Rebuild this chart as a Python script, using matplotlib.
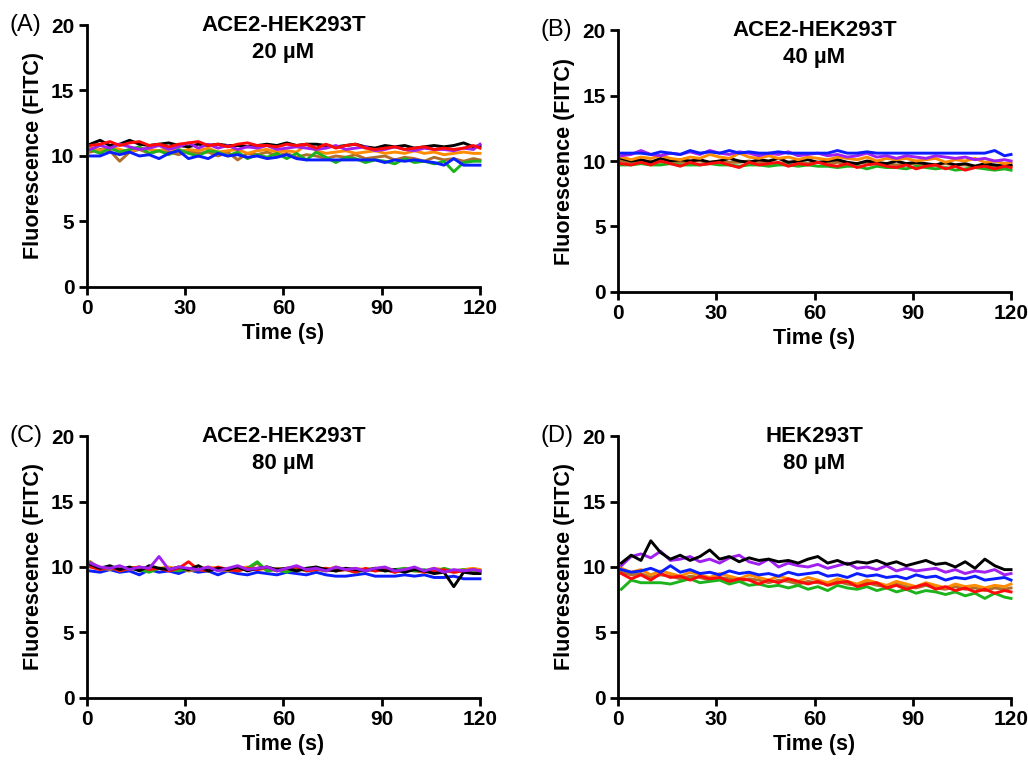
import matplotlib
matplotlib.use('Agg')
import matplotlib.pyplot as plt

plt.rcParams['font.family'] = ['Liberation Sans', 'DejaVu Sans']

# sampling grid (s)
time_s = list(range(1, 119, 3)) + [120]

# (A) ACE2-HEK293T, 20 uM
a_black = [10.9, 11.2, 10.8, 10.9, 11.2, 10.9, 10.8, 10.9, 11.0, 10.8, 10.7, 10.9, 10.8, 10.9, 10.8, 10.8, 10.7, 10.8, 10.9, 10.8, 11.0, 10.8, 10.9, 10.9, 10.8, 10.7, 10.8, 10.9, 10.7, 10.6, 10.8, 10.7, 10.8, 10.6, 10.7, 10.8, 10.7, 10.8, 11.0, 10.7, 10.8]
a_red = [10.8, 10.9, 11.1, 10.8, 11.0, 11.1, 10.8, 10.9, 10.7, 10.9, 11.0, 11.1, 10.8, 10.9, 10.7, 10.9, 11.0, 10.8, 10.8, 10.7, 10.9, 10.8, 10.9, 10.6, 10.9, 10.6, 10.8, 10.9, 10.6, 10.5, 10.6, 10.7, 10.5, 10.6, 10.7, 10.5, 10.6, 10.5, 10.6, 10.8, 10.6]
a_purple = [10.5, 10.8, 10.6, 10.9, 10.7, 10.5, 10.6, 10.8, 10.5, 10.7, 11.0, 10.6, 10.9, 10.6, 10.8, 10.5, 10.7, 10.6, 10.8, 10.5, 10.6, 10.7, 10.6, 10.5, 10.6, 10.8, 10.5, 10.6, 10.7, 10.4, 10.5, 10.7, 10.5, 10.4, 10.6, 10.5, 10.5, 10.4, 10.6, 10.5, 10.9]
a_orange = [10.6, 10.4, 10.7, 10.5, 10.3, 10.6, 10.5, 10.4, 10.6, 10.3, 10.5, 10.4, 10.6, 10.3, 10.4, 10.5, 10.2, 10.4, 10.5, 10.3, 10.4, 10.3, 10.9, 10.4, 10.2, 10.3, 10.4, 10.2, 10.3, 10.4, 10.2, 10.3, 10.2, 10.4, 10.2, 10.3, 10.1, 10.2, 10.3, 10.2, 10.2]
a_brown = [10.3, 10.5, 10.4, 9.6, 10.3, 10.5, 10.2, 10.4, 10.3, 10.1, 10.4, 10.2, 10.3, 10.0, 10.3, 9.7, 10.2, 10.1, 10.3, 10.0, 10.2, 9.9, 10.1, 10.0, 9.8, 10.0, 9.9, 10.1, 9.8, 9.9, 10.0, 9.7, 9.9, 9.8, 9.6, 9.9, 9.7, 9.8, 9.6, 9.8, 9.7]
a_green = [10.5, 10.2, 10.6, 10.3, 10.5, 10.7, 10.2, 10.4, 10.1, 10.5, 10.2, 10.0, 10.4, 10.3, 10.0, 10.3, 9.8, 10.1, 9.9, 10.2, 9.8, 10.2, 9.7, 10.3, 9.9, 9.5, 9.9, 9.8, 9.5, 9.7, 9.6, 9.4, 9.8, 9.5, 9.6, 9.4, 9.6, 8.8, 9.5, 9.6, 9.6]
a_blue = [10.0, 10.0, 10.3, 10.1, 10.3, 10.0, 10.1, 9.8, 10.2, 10.4, 9.8, 10.0, 9.8, 10.2, 10.0, 10.1, 9.9, 10.0, 9.8, 9.9, 10.1, 9.8, 9.7, 9.7, 9.7, 9.7, 9.7, 9.7, 9.7, 9.7, 9.5, 9.7, 9.6, 9.7, 9.6, 9.5, 9.3, 9.8, 9.3, 9.3, 9.3]

# (B) ACE2-HEK293T, 40 uM
b_blue = [10.6, 10.6, 10.6, 10.5, 10.7, 10.6, 10.5, 10.8, 10.6, 10.7, 10.6, 10.8, 10.6, 10.7, 10.6, 10.6, 10.7, 10.6, 10.6, 10.6, 10.6, 10.6, 10.8, 10.6, 10.6, 10.7, 10.6, 10.6, 10.6, 10.6, 10.6, 10.6, 10.6, 10.6, 10.6, 10.6, 10.6, 10.6, 10.8, 10.4, 10.5]
b_purple = [10.4, 10.5, 10.8, 10.5, 10.4, 10.6, 10.5, 10.7, 10.5, 10.8, 10.6, 10.5, 10.7, 10.6, 10.4, 10.6, 10.5, 10.7, 10.4, 10.5, 10.6, 10.4, 10.5, 10.3, 10.4, 10.6, 10.3, 10.4, 10.2, 10.4, 10.3, 10.2, 10.4, 10.3, 10.2, 10.3, 10.1, 10.2, 10.0, 10.1, 10.0]
b_orange = [10.3, 10.1, 10.3, 10.2, 10.4, 10.2, 10.1, 10.3, 10.2, 10.5, 10.3, 10.2, 10.6, 10.3, 10.2, 10.4, 10.2, 10.3, 10.1, 10.3, 10.2, 10.1, 10.3, 10.2, 10.1, 10.3, 10.0, 10.2, 10.1, 10.2, 10.0, 10.1, 10.2, 9.9, 10.1, 10.0, 10.2, 9.9, 10.0, 9.8, 9.9]
b_black = [10.2, 10.0, 10.1, 9.9, 10.2, 10.0, 10.1, 10.0, 10.1, 9.9, 10.0, 10.2, 10.0, 9.9, 10.1, 10.0, 10.2, 9.9, 10.0, 10.1, 9.9, 10.0, 10.1, 9.9, 9.8, 10.0, 9.9, 9.8, 10.0, 9.8, 9.9, 9.8, 9.7, 9.9, 9.7, 9.8, 9.6, 9.8, 9.7, 9.6, 9.7]
b_brown = [10.0, 9.9, 10.0, 10.0, 9.9, 10.0, 9.9, 10.0, 10.0, 9.9, 10.0, 9.9, 9.9, 10.0, 9.9, 9.9, 9.8, 9.9, 9.9, 9.8, 9.9, 9.8, 9.9, 9.8, 9.8, 9.9, 9.8, 9.8, 9.7, 9.8, 9.8, 9.7, 9.7, 9.8, 9.7, 9.7, 9.6, 9.7, 9.6, 9.7, 9.6]
b_red = [9.8, 9.7, 9.9, 9.7, 10.0, 9.8, 9.6, 9.9, 9.7, 9.8, 9.9, 9.7, 9.5, 9.9, 9.7, 9.8, 9.9, 9.6, 9.8, 9.7, 9.9, 9.7, 9.6, 9.8, 9.5, 9.7, 9.8, 9.6, 9.5, 9.7, 9.4, 9.6, 9.7, 9.4, 9.6, 9.3, 9.5, 9.6, 9.4, 9.6, 9.5]
b_green = [9.7, 9.7, 9.8, 9.7, 9.7, 9.8, 9.7, 9.7, 9.7, 9.8, 9.7, 9.7, 9.6, 9.7, 9.7, 9.6, 9.7, 9.7, 9.6, 9.7, 9.6, 9.6, 9.5, 9.6, 9.6, 9.4, 9.6, 9.5, 9.5, 9.4, 9.6, 9.5, 9.4, 9.5, 9.3, 9.4, 9.5, 9.4, 9.3, 9.4, 9.3]

# (C) ACE2-HEK293T, 80 uM
c_blue = [9.7, 9.6, 9.8, 9.6, 9.7, 9.4, 9.8, 9.6, 9.7, 9.5, 9.8, 9.6, 9.7, 9.4, 9.7, 9.5, 9.4, 9.6, 9.5, 9.4, 9.6, 9.5, 9.4, 9.6, 9.4, 9.3, 9.3, 9.4, 9.5, 9.3, 9.3, 9.3, 9.4, 9.3, 9.4, 9.2, 9.2, 9.3, 9.1, 9.1, 9.1]
c_black = [10.2, 9.9, 10.1, 9.8, 10.0, 9.7, 10.1, 9.9, 9.8, 10.0, 9.8, 10.1, 9.7, 9.9, 9.8, 10.0, 9.7, 9.9, 10.0, 9.8, 9.9, 9.7, 9.9, 10.0, 9.8, 9.7, 9.9, 9.8, 9.7, 9.9, 9.7, 9.8, 9.6, 9.8, 9.7, 9.5, 9.6, 8.5, 9.6, 9.5, 9.5]
c_purple = [10.3, 10.0, 9.9, 10.1, 9.8, 10.0, 9.9, 10.8, 9.8, 10.0, 9.9, 9.8, 10.0, 9.7, 9.9, 10.1, 9.8, 9.9, 10.0, 9.7, 9.9, 10.1, 9.8, 9.9, 9.7, 10.0, 9.8, 9.9, 9.7, 9.9, 10.0, 9.7, 9.8, 10.0, 9.7, 9.9, 9.6, 9.8, 9.7, 9.8, 9.7]
c_red = [10.0, 9.8, 10.0, 9.7, 9.9, 10.0, 9.8, 9.9, 9.7, 9.9, 10.4, 9.8, 9.7, 10.0, 9.8, 9.7, 9.9, 9.8, 10.0, 9.7, 9.9, 10.0, 9.7, 9.8, 9.9, 9.7, 9.8, 9.6, 9.9, 9.7, 9.8, 9.6, 9.8, 9.9, 9.6, 9.7, 9.8, 9.6, 9.7, 9.8, 9.7]
c_orange = [10.1, 9.9, 10.0, 9.8, 9.9, 10.0, 9.8, 9.9, 10.0, 9.8, 9.9, 9.8, 10.0, 9.9, 9.8, 9.9, 10.0, 9.8, 9.9, 9.8, 9.9, 9.9, 9.8, 9.9, 9.8, 10.0, 9.8, 9.9, 9.8, 9.9, 9.8, 9.7, 9.9, 9.8, 9.7, 9.9, 9.8, 9.7, 9.8, 9.9, 9.8]
c_brown = [10.4, 9.9, 9.8, 10.0, 9.8, 9.9, 9.7, 9.9, 9.8, 9.9, 9.7, 9.8, 9.9, 9.8, 9.7, 9.9, 9.8, 10.3, 9.7, 9.9, 9.8, 9.7, 9.9, 9.8, 9.7, 9.8, 9.9, 9.7, 9.8, 9.7, 9.8, 9.6, 9.8, 9.7, 9.6, 9.8, 9.7, 9.6, 9.7, 9.6, 9.6]
c_green = [10.3, 9.8, 10.0, 9.7, 9.9, 9.8, 9.6, 9.9, 9.8, 9.7, 9.9, 9.8, 9.7, 9.9, 9.8, 9.7, 9.9, 10.4, 9.7, 9.8, 9.6, 9.9, 9.7, 9.8, 9.9, 9.7, 9.8, 9.6, 9.8, 9.9, 9.7, 9.8, 9.9, 9.7, 9.8, 9.6, 9.9, 9.7, 9.8, 9.6, 9.7]

# (D) HEK293T, 80 uM
d_black = [10.3, 10.9, 10.5, 12.0, 11.1, 10.6, 10.9, 10.5, 10.8, 11.3, 10.6, 10.8, 10.4, 10.7, 10.5, 10.6, 10.4, 10.5, 10.3, 10.6, 10.8, 10.3, 10.5, 10.2, 10.4, 10.3, 10.5, 10.2, 10.4, 10.1, 10.3, 10.5, 10.2, 10.3, 10.0, 10.4, 9.9, 10.6, 10.1, 9.8, 9.8]
d_purple = [10.1, 10.8, 11.0, 10.7, 11.2, 10.5, 10.6, 10.8, 10.4, 10.6, 10.3, 10.7, 10.9, 10.4, 10.2, 10.6, 10.0, 10.3, 10.1, 10.0, 10.2, 9.9, 10.1, 10.3, 9.9, 10.0, 9.8, 10.1, 9.7, 9.9, 9.7, 9.8, 9.9, 9.6, 9.8, 9.5, 9.7, 9.6, 9.8, 9.4, 9.5]
d_blue = [9.8, 9.6, 9.7, 9.9, 9.6, 10.1, 9.6, 9.8, 9.5, 9.6, 9.4, 9.7, 9.5, 9.6, 9.4, 9.5, 9.3, 9.6, 9.4, 9.5, 9.6, 9.3, 9.4, 9.2, 9.5, 9.3, 9.4, 9.2, 9.3, 9.1, 9.4, 9.2, 9.3, 9.0, 9.2, 9.1, 9.3, 9.0, 9.1, 9.2, 9.0]
d_orange = [9.9, 9.6, 9.8, 9.4, 9.7, 9.5, 9.3, 9.6, 9.4, 9.2, 9.5, 9.3, 9.1, 9.4, 9.2, 9.0, 9.3, 9.1, 8.9, 9.2, 9.0, 8.8, 9.1, 8.9, 8.7, 9.0, 8.8, 8.6, 8.9, 8.7, 8.5, 8.8, 8.6, 8.4, 8.7, 8.5, 8.6, 8.4, 8.6, 8.5, 8.7]
d_brown = [9.6, 9.4, 9.5, 9.2, 9.4, 9.3, 9.1, 9.3, 9.2, 9.0, 9.2, 9.1, 8.9, 9.1, 9.0, 8.8, 9.0, 8.9, 8.7, 8.9, 8.8, 8.7, 8.9, 8.7, 8.6, 8.8, 8.6, 8.5, 8.7, 8.5, 8.4, 8.6, 8.4, 8.3, 8.5, 8.3, 8.4, 8.2, 8.4, 8.3, 8.4]
d_red = [9.5, 9.1, 9.4, 9.0, 9.5, 9.2, 9.3, 9.0, 9.3, 9.1, 9.2, 8.9, 9.1, 9.0, 8.7, 9.0, 8.8, 9.1, 8.9, 8.7, 8.9, 8.6, 8.8, 8.9, 8.5, 8.7, 8.8, 8.4, 8.6, 8.3, 8.5, 8.7, 8.3, 8.5, 8.2, 8.4, 8.1, 8.3, 8.0, 8.2, 8.1]
d_green = [8.3, 9.0, 8.8, 8.8, 8.8, 8.7, 8.9, 9.1, 8.8, 8.9, 9.0, 8.7, 8.9, 8.6, 8.7, 8.5, 8.6, 8.4, 8.6, 8.3, 8.5, 8.2, 8.6, 8.4, 8.3, 8.5, 8.2, 8.4, 8.1, 8.3, 8.0, 8.2, 8.1, 7.9, 8.1, 7.8, 8.0, 7.6, 8.0, 7.7, 7.6]

colors = {
    'brown': '#b06e2c',
    'orange': '#ff8c00',
    'green': '#1db31d',
    'blue': '#0a1eff',
    'black': '#000000',
    'purple': '#a020f0',
    'red': '#ff0a0a',
}

panels = [
    ('(A)', 'ACE2-HEK293T\n20 µM',
     {'brown': a_brown, 'orange': a_orange, 'green': a_green, 'blue': a_blue,
      'black': a_black, 'purple': a_purple, 'red': a_red}),
    ('(B)', 'ACE2-HEK293T\n40 µM',
     {'brown': b_brown, 'green': b_green, 'black': b_black, 'orange': b_orange,
      'red': b_red, 'purple': b_purple, 'blue': b_blue}),
    ('(C)', 'ACE2-HEK293T\n80 µM',
     {'blue': c_blue, 'orange': c_orange, 'brown': c_brown, 'green': c_green,
      'red': c_red, 'black': c_black, 'purple': c_purple}),
    ('(D)', 'HEK293T\n80 µM',
     {'brown': d_brown, 'orange': d_orange, 'green': d_green, 'red': d_red,
      'blue': d_blue, 'purple': d_purple, 'black': d_black}),
]

positions = [
    [0.0846, 0.6224, 0.3823, 0.3447],
    [0.6012, 0.6158, 0.3823, 0.3447],
    [0.0846, 0.0816, 0.3823, 0.3447],
    [0.6012, 0.0816, 0.3823, 0.3447],
]

fig = plt.figure(figsize=(10.28, 7.6), dpi=100)

for (tag, title, series), pos in zip(panels, positions):
    ax = fig.add_axes(pos)
    for name, vals in series.items():
        ax.plot(time_s, vals, color=colors[name], lw=2.1, clip_on=False)
    ax.set_xlim(0, 120)
    ax.set_ylim(0, 20)
    ax.set_xticks([0, 30, 60, 90, 120])
    ax.set_yticks([0, 5, 10, 15, 20])
    for s in ['top', 'right']:
        ax.spines[s].set_visible(False)
    for s in ['left', 'bottom']:
        ax.spines[s].set_linewidth(2.0)
    ax.tick_params(width=2.0, length=6, labelsize=15, pad=3)
    for lab in ax.get_xticklabels() + ax.get_yticklabels():
        lab.set_fontweight('bold')
    ax.set_xlabel('Time (s)', fontsize=15.5, fontweight='bold', labelpad=3)
    ax.set_ylabel('Fluorescence (FITC)', fontsize=15.5, fontweight='bold', labelpad=5)
    ax.text(0.5, 1.04, title, transform=ax.transAxes, ha='center', va='top',
            fontsize=16, fontweight='bold', linespacing=1.4)
    ax.text(-0.197, 1.0, tag, transform=ax.transAxes, ha='left', va='center',
            fontsize=17)

fig.savefig('out.png', dpi=100)
